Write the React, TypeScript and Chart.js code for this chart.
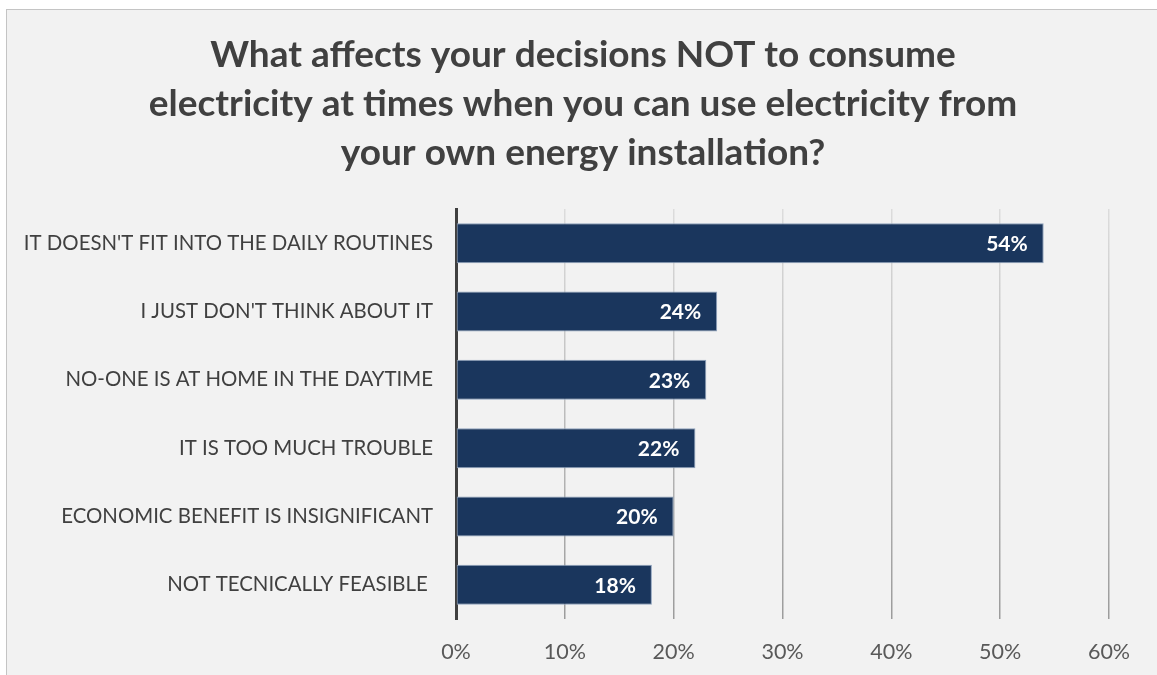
import React, { useEffect, useRef } from "react";
import { Chart, registerables } from "chart.js";

Chart.register(...registerables);

const TITLE_LINES = [
  "What affects your decisions NOT to consume",
  "electricity at times when you can use electricity from",
  "your own energy installation?",
];
const CATEGORIES = [
  "IT DOESN'T FIT INTO THE DAILY ROUTINES",
  "I JUST DON'T THINK ABOUT IT",
  "NO-ONE IS AT HOME IN THE DAYTIME",
  "IT IS TOO MUCH TROUBLE",
  "ECONOMIC BENEFIT IS INSIGNIFICANT",
  "NOT TECNICALLY FEASIBLE ",
];
const VALUES = [54, 24, 23, 22, 20, 18];
const X_MIN = 0;
const X_MAX = 60;
const X_STEP = 10;

const FONT = "Lato";

const barLabelPlugin = {
  id: "barLabels",
  afterDatasetsDraw(chart: any) {
    const ctx = chart.ctx;
    const meta = chart.getDatasetMeta(0);
    ctx.save();
    ctx.font = `bold 21px ${FONT}`;
    ctx.fillStyle = "#ffffff";
    ctx.textAlign = "right";
    ctx.textBaseline = "middle";
    meta.data.forEach((bar: any, i: number) => {
      ctx.fillText(`${VALUES[i]}%`, bar.x - 16, bar.y + 1);
    });
    ctx.restore();
  },
};

const titlePlugin = {
  id: "centerTitle",
  afterDraw(chart: any) {
    const ctx = chart.ctx;
    ctx.save();
    ctx.font = `bold 37px ${FONT}`;
    ctx.fillStyle = "#404040";
    ctx.textAlign = "center";
    ctx.textBaseline = "middle";
    const cx = chart.width / 2 + 1;
    TITLE_LINES.forEach((line, i) => {
      ctx.fillText(line, cx, 45 + i * 49);
    });
    ctx.restore();
  },
};

export default function App() {
  const ref = useRef<HTMLCanvasElement | null>(null);

  useEffect(() => {
    if (!ref.current) return;
    const gridColor = (c: any) => {
      const chart = c.chart;
      const area = chart.chartArea;
      if (!area) return "#bfbfbf";
      const g = chart.ctx.createLinearGradient(0, area.top, 0, area.bottom);
      g.addColorStop(0, "#dcdcdc");
      g.addColorStop(1, "#9c9c9c");
      return g;
    };
    const chart = new Chart(ref.current, {
      type: "bar",
      data: {
        labels: CATEGORIES,
        datasets: [
          {
            data: VALUES,
            backgroundColor: "#1a365d",
            borderColor: "#8ea2bc",
            borderWidth: 1,
            borderSkipped: false,
            categoryPercentage: 1,
            barPercentage: 0.585,
          },
        ],
      },
      options: {
        indexAxis: "y",
        animation: false,
        responsive: false,
        devicePixelRatio: 1,
        layout: { padding: { left: 0, right: 48, top: 199, bottom: 0 } },
        plugins: {
          legend: { display: false },
          tooltip: { enabled: false },
          title: { display: false },
        },
        scales: {
          x: {
            min: X_MIN,
            max: X_MAX,
            grid: { color: gridColor, lineWidth: 1.5, drawTicks: false },
            border: { display: false },
            ticks: {
              stepSize: X_STEP,
              color: "#595959",
              font: { family: FONT, size: 21.5 },
              padding: 20,
              callback: (v: any) => `${v}%`,
            },
            afterFit: (s: any) => {
              s.height = 56;
            },
          },
          y: {
            grid: { display: false },
            border: { display: true, color: "#404040", width: 3 },
            ticks: {
              color: "#404040",
              font: { family: FONT, size: 20.4 },
              padding: 15,
            },
            afterFit: (s: any) => {
              s.width = 449;
            },
          },
        },
      },
      plugins: [barLabelPlugin, titlePlugin],
    });
    return () => chart.destroy();
  }, []);

  return (
    <div
      style={{
        position: "fixed",
        left: 0,
        top: 0,
        width: 1157,
        height: 675,
        overflow: "hidden",
        background: "#ffffff",
      }}
    >
      <div
        style={{
          position: "absolute",
          left: 6,
          top: 9,
          width: 1180,
          height: 700,
          border: "1px solid #c4c4c4",
          background: "#f2f2f2",
        }}
      >
        <canvas ref={ref} width={1150} height={665} style={{ display: "block" }} />
      </div>
    </div>
  );
}
